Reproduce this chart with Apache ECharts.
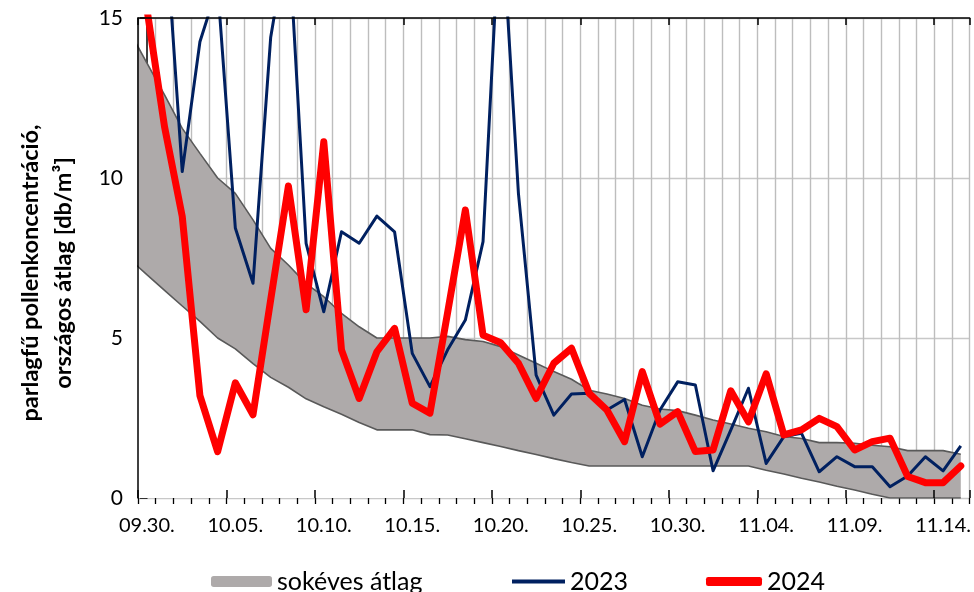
<!DOCTYPE html>
<html>
<head>
<meta charset="utf-8">
<script src="https://cdn.jsdelivr.net/npm/echarts@6/dist/echarts.min.js"></script>
<style>
html,body{margin:0;padding:0;background:#fff;}
#chart{width:974px;height:592px;}
</style>
</head>
<body>
<div id="chart"></div>
<script>
// Category labels (days)
const dates = ['09.30.','10.01.','10.02.','10.03.','10.04.','10.05.','10.06.','10.07.','10.08.','10.09.',
  '10.10.','10.11.','10.12.','10.13.','10.14.','10.15.','10.16.','10.17.','10.18.','10.19.',
  '10.20.','10.21.','10.22.','10.23.','10.24.','10.25.','10.26.','10.27.','10.28.','10.29.',
  '10.30.','10.31.','11.01.','11.02.','11.03.','11.04.','11.05.','11.06.','11.07.','11.08.',
  '11.09.','11.10.','11.11.','11.12.','11.13.','11.14.','11.15.'];

// Long-term average band (starts one day earlier, 09.29., clipped at the axis)
const bandStart = -1;
const bandUpper = [14.6,13.6,12.6,11.55,10.77,10.0,9.52,8.69,7.8,7.28,6.7,
  6.29,5.77,5.35,5.0,5.0,5.0,5.0,5.05,4.95,4.89,
  4.73,4.47,4.21,3.95,3.71,3.37,3.25,3.11,2.9,2.78,
  2.73,2.59,2.44,2.31,2.18,2.07,1.92,1.86,1.73,1.73,
  1.71,1.65,1.6,1.48,1.48,1.48,1.37];
const bandLower = [7.48,6.98,6.49,6.0,5.52,5.0,4.66,4.2,3.77,3.46,3.1,
  2.85,2.62,2.36,2.13,2.13,2.13,1.98,1.97,1.85,1.73,
  1.61,1.48,1.36,1.23,1.11,1.0,1.0,1.0,1.0,1.0,
  1.0,1.0,1.0,1.0,1.0,0.87,0.75,0.62,0.5,0.37,
  0.25,0.12,0,0,0,0,0];

const s2023 = [17,18.3,10.2,14.26,16.0,8.44,6.71,14.4,17.7,7.96,
  5.82,8.32,7.96,8.81,8.32,4.52,3.48,4.63,5.56,8.01,
  18.7,9.52,3.84,2.59,3.25,3.27,2.75,3.08,1.29,2.75,
  3.63,3.53,0.85,2.12,3.43,1.08,1.92,2.02,0.82,1.29,
  0.98,0.98,0.35,0.69,1.29,0.85,1.63];

const s2024 = [15.3,11.6,8.8,3.2,1.45,3.6,2.6,6.2,9.75,5.88,
  11.13,4.63,3.11,4.57,5.3,2.96,2.65,5.8,9.0,5.09,
  4.85,4.21,3.11,4.21,4.68,3.27,2.75,1.76,3.95,2.31,
  2.7,1.45,1.5,3.35,2.38,3.88,1.97,2.13,2.49,2.23,
  1.5,1.76,1.87,0.67,0.48,0.48,1.0];

const yTicks = [0, 5, 10, 15];

const FONT = 'Lato, "Noto Sans", sans-serif';
const pairs = (arr, start) => arr.map((v, i) => [i + start, v]);

const chart = echarts.init(document.getElementById('chart'));
const catAxisBase = {
  type: 'category', data: dates, boundaryGap: true, gridIndex: 0,
  axisLabel: {show: false}, axisLine: {show: false}, splitLine: {show: false}
};
const legendText = {fontFamily: FONT, fontSize: 25, color: '#000'};
chart.setOption({
  animation: false,
  backgroundColor: '#ffffff',
  grid: {left: 138, right: 4, top: 18, bottom: 94},
  xAxis: [
    Object.assign({}, catAxisBase, {
      axisLabel: {show: true, interval: 4, color: '#000', fontFamily: FONT, fontSize: 20, margin: 18},
      axisTick: {show: true, interval: 0, length: 6, inside: false, lineStyle: {color: '#000', width: 1.3}},
      splitLine: {show: true, interval: 0, lineStyle: {color: '#bdbdbd', width: 1.4}}
    }),
    Object.assign({}, catAxisBase, {
      z: 10,
      axisLine: {show: true, onZero: false, lineStyle: {color: '#000', width: 1.5}},
      axisTick: {show: true, interval: 4, length: 7, inside: true, lineStyle: {color: '#000', width: 1.5}}
    }),
    Object.assign({}, catAxisBase, {
      z: 10,
      axisTick: {show: true, interval: 4, length: 8, inside: false, lineStyle: {color: '#000', width: 1.5}}
    }),
    {type: 'value', min: -0.5, max: dates.length - 0.5, show: false, gridIndex: 0}
  ],
  yAxis: [
    {
      type: 'value', min: yTicks[0], max: yTicks[yTicks.length - 1], interval: 5,
      axisLine: {show: true, lineStyle: {color: '#000', width: 1.5}},
      axisTick: {show: true, length: 7, lineStyle: {color: '#000', width: 1.5}},
      axisLabel: {color: '#000', fontFamily: FONT, fontSize: 21, margin: 15},
      splitLine: {show: true, lineStyle: {color: '#c8c8c8', width: 1.3}}
    },
    {
      type: 'value', position: 'left', min: yTicks[0], max: yTicks[yTicks.length - 1], interval: 5, z: 10,
      axisLine: {show: true, lineStyle: {color: '#000', width: 1.5}},
      axisTick: {show: false}, axisLabel: {show: false}, splitLine: {show: false}
    }
  ],
  legend: [
    {data: [{name: 'sokéves átlag', icon: 'roundRect', itemStyle: {color: '#aeaaaa', borderWidth: 0}}],
     left: 211, top: 569, padding: 0, itemWidth: 61, itemHeight: 11, textStyle: legendText},
    {data: [{name: '2023', icon: 'rect', itemStyle: {color: '#002060', borderWidth: 0}}],
     left: 512, top: 569, padding: 0, itemWidth: 53, itemHeight: 4, textStyle: legendText},
    {data: [{name: '2024', icon: 'roundRect', itemStyle: {color: '#ff0000', borderWidth: 0}}],
     left: 706, top: 569, padding: 0, itemWidth: 56, itemHeight: 9, textStyle: legendText}
  ],
  graphic: [{
    type: 'text', x: 47, y: 273, rotation: Math.PI / 2,
    style: {
      text: 'parlagfű pollenkoncentráció,\nországos átlag [db/m³]',
      fontFamily: FONT, fontWeight: 'bold', fontSize: 23.5, lineHeight: 33,
      fill: '#000', align: 'center', verticalAlign: 'middle'
    }
  }],
  series: [
    {
      name: 'sokéves átlag', type: 'line', xAxisIndex: 3, yAxisIndex: 0,
      data: pairs(bandUpper, bandStart), symbol: 'none', clip: true,
      lineStyle: {color: '#595959', width: 1.6},
      itemStyle: {color: '#aeaaaa'},
      areaStyle: {color: '#aeaaaa', opacity: 1}, z: 2
    },
    {
      name: 'lower', type: 'line', xAxisIndex: 3, yAxisIndex: 0,
      data: pairs(bandLower, bandStart), symbol: 'none', clip: true,
      lineStyle: {color: '#595959', width: 1.6},
      itemStyle: {color: '#ffffff'},
      areaStyle: {color: '#ffffff', opacity: 1}, z: 3
    },
    {
      name: '2023', type: 'line', xAxisIndex: 3, yAxisIndex: 0,
      data: pairs(s2023, 0), symbol: 'none', clip: true,
      lineStyle: {color: '#002060', width: 3, join: 'round'},
      itemStyle: {color: '#002060'}, z: 4
    },
    {
      name: '2024', type: 'line', xAxisIndex: 3, yAxisIndex: 0,
      data: pairs(s2024, 0), symbol: 'none', clip: true,
      lineStyle: {color: '#ff0000', width: 7, join: 'round', cap: 'round'},
      itemStyle: {color: '#ff0000'}, z: 5
    }
  ]
});
</script>
</body>
</html>
